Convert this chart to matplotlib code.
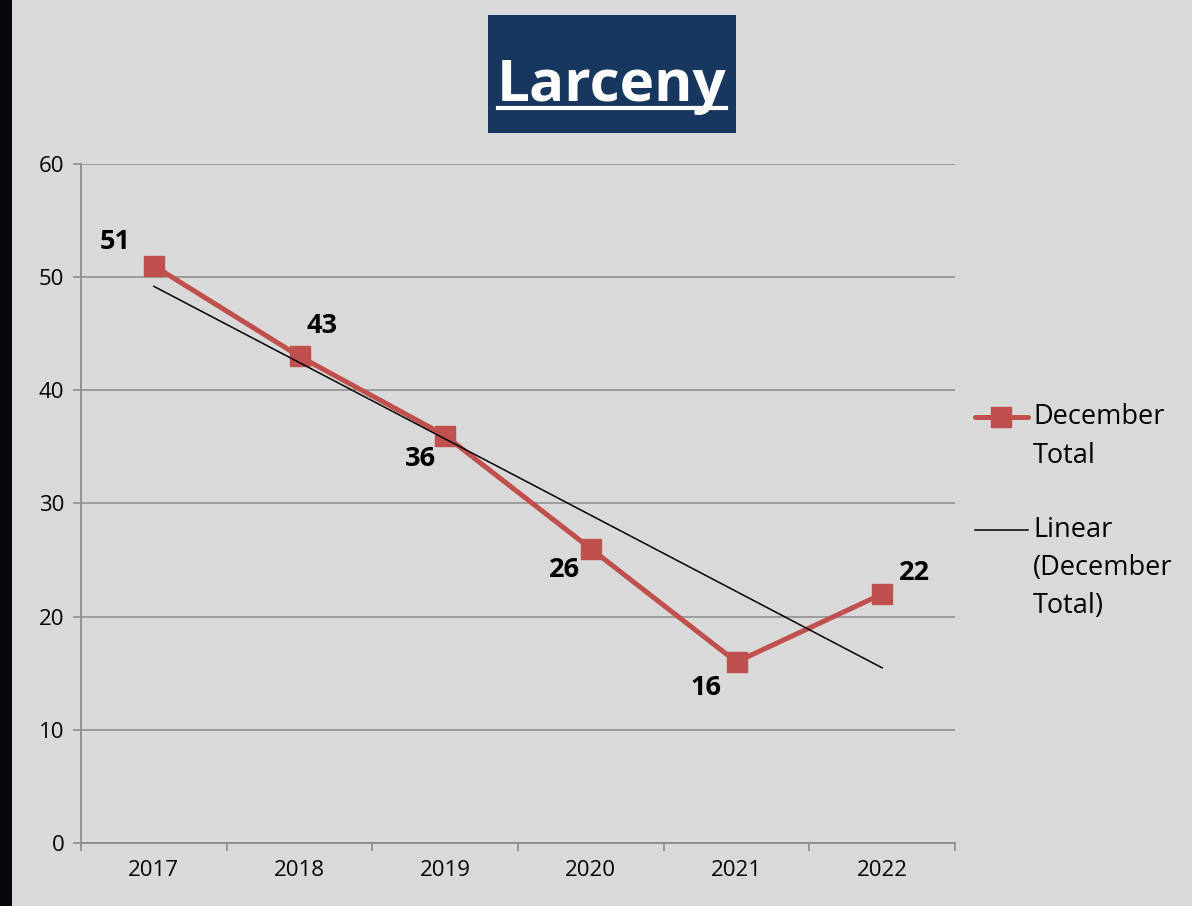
import matplotlib.pyplot as plt
import matplotlib.patches as patches
from matplotlib.lines import Line2D
import numpy as np

plt.rcParams['font.family'] = ['Open Sans', 'DejaVu Sans']

years = ['2017', '2018', '2019', '2020', '2021', '2022']
december_total = [51, 43, 36, 26, 16, 22]
# label offsets in points (dx, dy) around each marker
label_offsets = [(-28, 17), (16, 22), (-18, -17), (-19, -15), (-22, -19), (23, 15)]

bg = '#d9d9d9'
red = '#c0504d'
grid_col = '#8c8c8c'

fig = plt.figure(figsize=(11.92, 9.06), dpi=100, facecolor=bg)
W, H = 1192, 906

# dark strip on the left edge
fig.patches.append(patches.Rectangle((0, 0), 12 / W, 1, transform=fig.transFigure,
                                     facecolor='#05070c', edgecolor='none', zorder=0))

ax = fig.add_axes([81 / W, 63 / H, (955 - 81) / W, (843 - 164) / H])
ax.set_facecolor(bg)

x = np.arange(len(years))
ax.plot(x, december_total, color=red, lw=3.6, marker='s', markersize=14,
        markerfacecolor=red, markeredgecolor=red, zorder=3, solid_joinstyle='miter')

# linear trend line
slope, icpt = np.polyfit(x, december_total, 1)
ax.plot(x, slope * x + icpt, color='black', lw=1.1, zorder=4)

for xi, v, (dx, dy) in zip(x, december_total, label_offsets):
    ax.annotate(str(v), (xi, v), xytext=(dx, dy), textcoords='offset points',
                ha='center', va='center', fontsize=19.5, fontweight='bold', color='black')

ax.set_xlim(-0.5, len(years) - 0.5)
ax.set_ylim(0, 60)
ax.set_yticks(range(0, 61, 10))
ax.set_xticks(x)
ax.set_xticklabels(years)
ax.set_xticks(np.arange(-0.5, len(years), 1), minor=True)
ax.tick_params(axis='x', which='major', length=0, labelsize=16, pad=12)
ax.tick_params(axis='x', which='minor', length=6, color=grid_col, width=1.2)
ax.tick_params(axis='y', length=6, color=grid_col, width=1.2, labelsize=16, pad=6)
ax.yaxis.grid(True, color=grid_col, lw=1.1)
ax.set_axisbelow(True)
for s in ['top', 'right']:
    ax.spines[s].set_visible(False)
for s in ['left', 'bottom']:
    ax.spines[s].set_color(grid_col)
    ax.spines[s].set_linewidth(1.3)

# title box
fig.patches.append(patches.Rectangle((488 / W, 1 - 133 / H), (736 - 488) / W, (133 - 15) / H,
                                     transform=fig.transFigure, facecolor='#17375e',
                                     edgecolor='none', zorder=1))
fig.text(612 / W, 1 - 101 / H, 'Larceny', color='white', fontsize=42, fontweight='bold',
         ha='center', va='baseline', zorder=2)
fig.lines.append(Line2D([498 / W, 726 / W], [1 - 108 / H, 1 - 108 / H], transform=fig.transFigure,
                        color='white', lw=3, zorder=2))

# legend
fig.lines.append(Line2D([975 / W, 1028 / W], [1 - 417 / H] * 2, transform=fig.transFigure,
                        color=red, lw=3.6, solid_capstyle='round'))
fig.lines.append(Line2D([1001 / W], [1 - 417 / H], transform=fig.transFigure, color=red,
                        marker='s', markersize=14, markerfacecolor=red, markeredgecolor=red))
fig.text(1033 / W, 1 - 417 / H, 'December', fontsize=19.5, va='center', ha='left')
fig.text(1033 / W, 1 - 456 / H, 'Total', fontsize=19.5, va='center', ha='left')
fig.lines.append(Line2D([975 / W, 1028 / W], [1 - 530 / H] * 2, transform=fig.transFigure,
                        color='black', lw=1.1))
for i, t in enumerate(['Linear', '(December', 'Total)']):
    fig.text(1033 / W, 1 - (530 + 38 * i) / H, t, fontsize=19.5, va='center', ha='left')

fig.savefig('out.png', dpi=100, facecolor=bg)
